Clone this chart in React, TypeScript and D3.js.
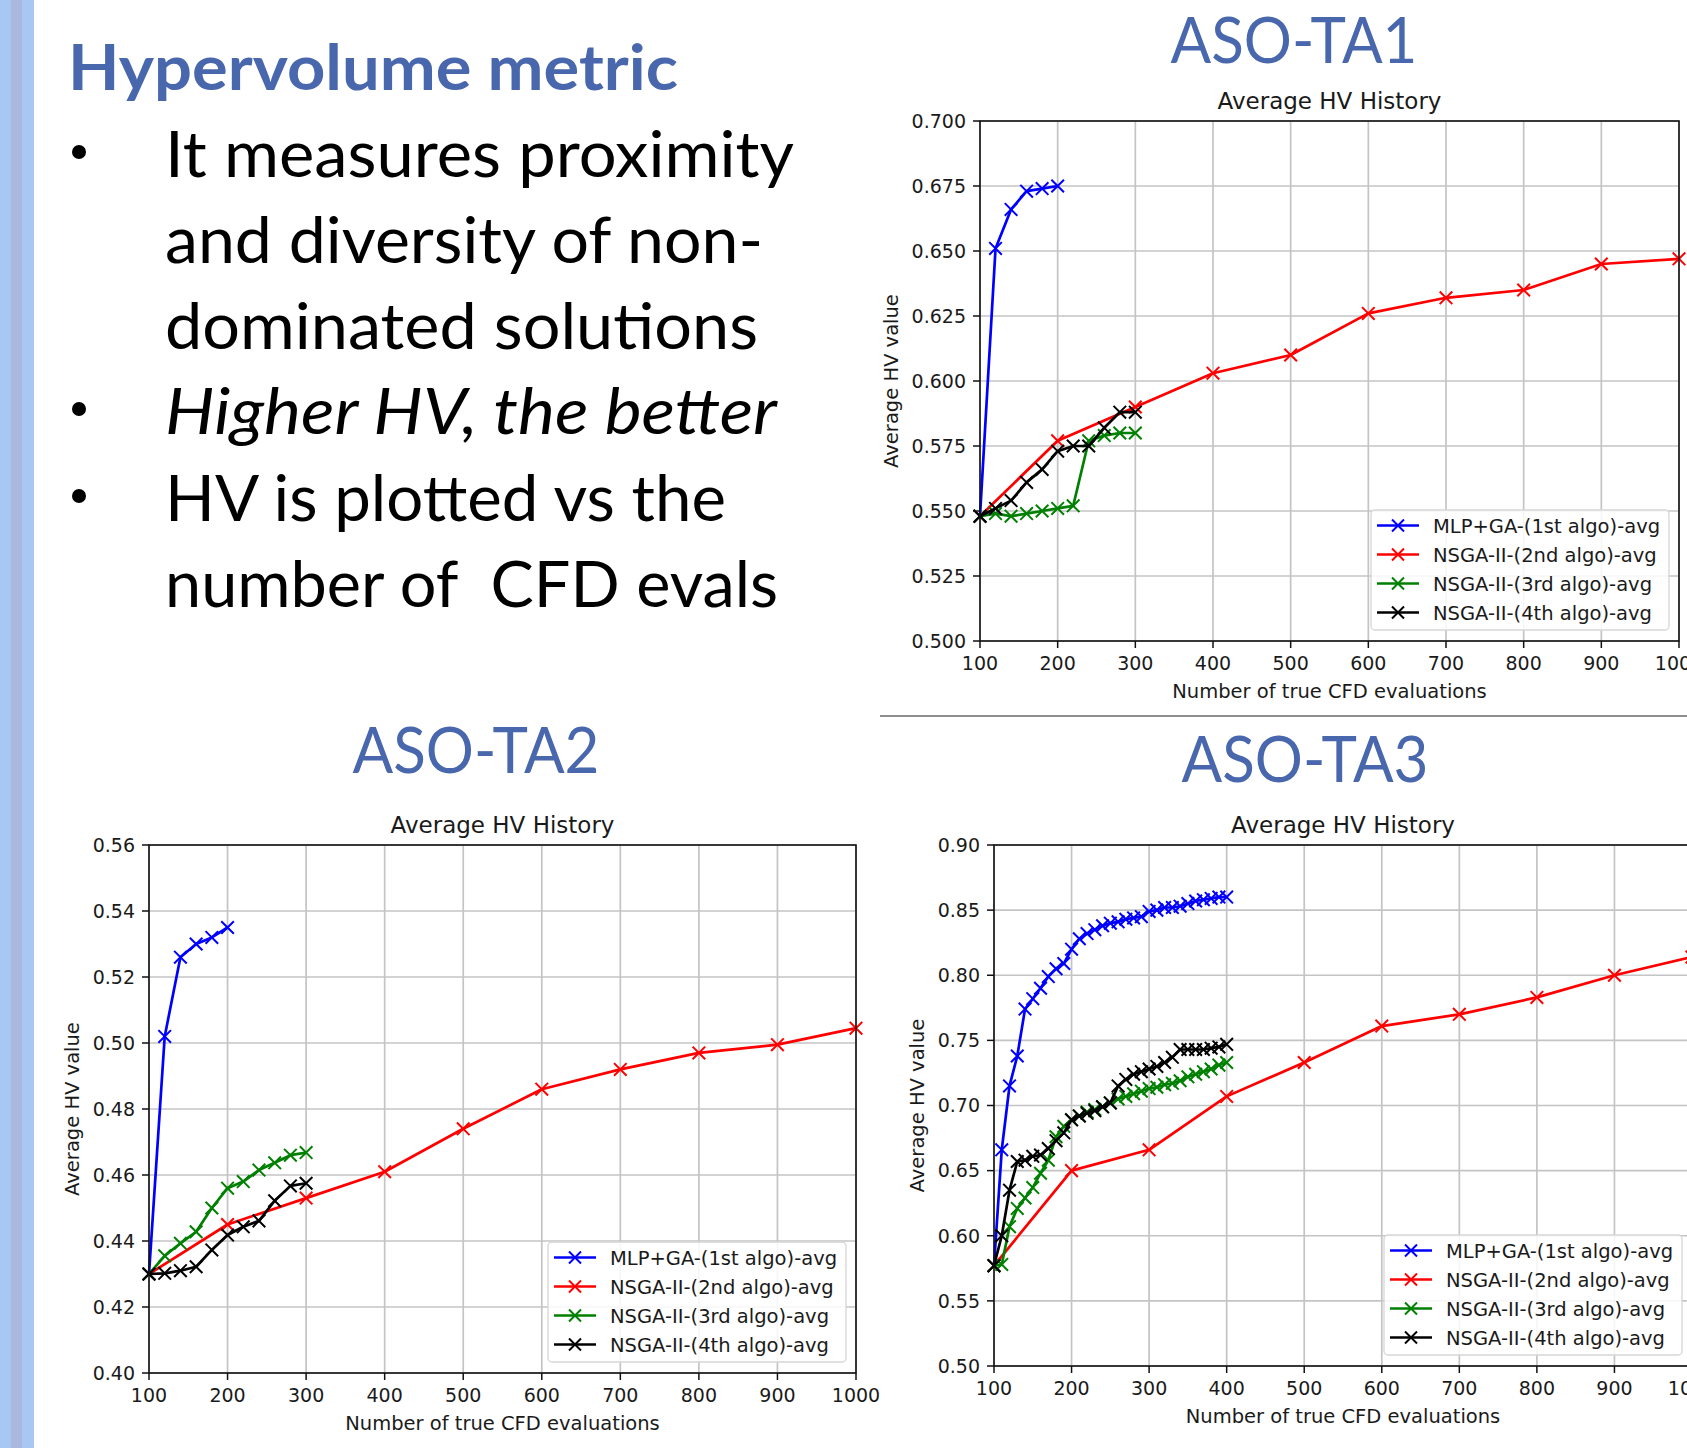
import React from 'react';
import * as d3 from 'd3';

// ---------- text content ----------
const SLIDE_TITLE = 'Hypervolume metric';
const BULLET_LINES = [
  { text: 'It measures proximity', bullet: true, italic: false },
  { text: 'and diversity of non-', bullet: false, italic: false },
  { text: 'dominated solutions', bullet: false, italic: false },
  { text: 'Higher HV, the better', bullet: true, italic: true },
  { text: 'HV is plotted vs the', bullet: true, italic: false },
  { text: 'number of  CFD evals', bullet: false, italic: false },
];
const SERIES_NAMES = [
  'MLP+GA-(1st algo)-avg',
  'NSGA-II-(2nd algo)-avg',
  'NSGA-II-(3rd algo)-avg',
  'NSGA-II-(4th algo)-avg',
];
const SERIES_COLORS = ['#0000ff', '#ff0000', '#008000', '#000000'];
const X_TICKS = [100, 200, 300, 400, 500, 600, 700, 800, 900, 1000];

// ---------- ASO-TA1 ----------
const TA1_Y_TICKS = [0.5, 0.525, 0.55, 0.575, 0.6, 0.625, 0.65, 0.675, 0.7];
const TA1_MLP_X = [100, 120, 140, 160, 180, 200];
const TA1_MLP_Y = [0.548, 0.651, 0.666, 0.673, 0.674, 0.675];
const TA1_NSGA2_X = [100, 200, 300, 400, 500, 600, 700, 800, 900, 1000];
const TA1_NSGA2_Y = [0.548, 0.577, 0.590, 0.603, 0.610, 0.626, 0.632, 0.635, 0.645, 0.647];
const TA1_NSGA3_X = [100, 120, 140, 160, 180, 200, 220, 240, 260, 280, 300];
const TA1_NSGA3_Y = [0.548, 0.549, 0.548, 0.549, 0.550, 0.551, 0.552, 0.577, 0.579, 0.580, 0.580];
const TA1_NSGA4_X = [100, 120, 140, 160, 180, 200, 220, 240, 260, 280, 300];
const TA1_NSGA4_Y = [0.548, 0.551, 0.554, 0.561, 0.566, 0.573, 0.575, 0.575, 0.582, 0.588, 0.588];

// ---------- ASO-TA2 ----------
const TA2_Y_TICKS = [0.4, 0.42, 0.44, 0.46, 0.48, 0.5, 0.52, 0.54, 0.56];
const TA2_MLP_X = [100, 120, 140, 160, 180, 200];
const TA2_MLP_Y = [0.430, 0.502, 0.526, 0.530, 0.532, 0.535];
const TA2_NSGA2_X = [100, 200, 300, 400, 500, 600, 700, 800, 900, 1000];
const TA2_NSGA2_Y = [0.430, 0.445, 0.453, 0.461, 0.474, 0.486, 0.492, 0.497, 0.4995, 0.5045];
const TA2_NSGA3_X = [100, 120, 140, 160, 180, 200, 220, 240, 260, 280, 300];
const TA2_NSGA3_Y = [0.430, 0.4355, 0.4393, 0.4428, 0.450, 0.456, 0.458, 0.4615, 0.4637, 0.466, 0.4668];
const TA2_NSGA4_X = [100, 120, 140, 160, 180, 200, 220, 240, 260, 280, 300];
const TA2_NSGA4_Y = [0.430, 0.4302, 0.431, 0.4322, 0.4373, 0.4418, 0.4443, 0.4461, 0.4522, 0.4567, 0.4575];

// ---------- ASO-TA3 ----------
const TA3_Y_TICKS = [0.5, 0.55, 0.6, 0.65, 0.7, 0.75, 0.8, 0.85, 0.9];
const TA3_DENSE_X = [100, 110, 120, 130, 140, 150, 160, 170, 180, 190, 200, 210, 220, 230, 240, 250,
  260, 270, 280, 290, 300, 310, 320, 330, 340, 350, 360, 370, 380, 390, 400];
const TA3_MLP_Y = [0.577, 0.666, 0.715, 0.738, 0.774, 0.782, 0.790, 0.799, 0.805, 0.809, 0.820, 0.828,
  0.832, 0.835, 0.838, 0.840, 0.841, 0.843, 0.844, 0.845, 0.849, 0.850, 0.852, 0.852, 0.853, 0.855,
  0.857, 0.858, 0.859, 0.860, 0.860];
const TA3_NSGA2_X = [100, 200, 300, 400, 500, 600, 700, 800, 900, 1000];
const TA3_NSGA2_Y = [0.577, 0.650, 0.666, 0.707, 0.733, 0.761, 0.770, 0.783, 0.800, 0.814];
const TA3_NSGA3_Y = [0.577, 0.578, 0.607, 0.621, 0.629, 0.637, 0.648, 0.658, 0.676, 0.684, 0.689, 0.692,
  0.695, 0.697, 0.699, 0.702, 0.705, 0.707, 0.709, 0.711, 0.713, 0.714, 0.716, 0.717, 0.719, 0.722,
  0.724, 0.726, 0.728, 0.731, 0.733];
const TA3_NSGA4_Y = [0.577, 0.600, 0.635, 0.657, 0.658, 0.661, 0.662, 0.667, 0.673, 0.679, 0.689, 0.692,
  0.694, 0.696, 0.699, 0.702, 0.715, 0.720, 0.724, 0.726, 0.728, 0.730, 0.733, 0.737, 0.743, 0.743,
  0.743, 0.743, 0.744, 0.745, 0.747];

const zip = (xs: number[], ys: number[]) => xs.map((v, i) => [v, ys[i]] as [number, number]);

const CHARTS = [
  {
    key: 'ta1',
    heading: 'ASO-TA1',
    yTicks: TA1_Y_TICKS,
    yFormat: '.3f',
    series: [zip(TA1_MLP_X, TA1_MLP_Y), zip(TA1_NSGA2_X, TA1_NSGA2_Y), zip(TA1_NSGA3_X, TA1_NSGA3_Y), zip(TA1_NSGA4_X, TA1_NSGA4_Y)],
    box: { left: 980, right: 1679, top: 121, bottom: 641 },
    headingPos: { x: 1294, y: 63 },
  },
  {
    key: 'ta2',
    heading: 'ASO-TA2',
    yTicks: TA2_Y_TICKS,
    yFormat: '.2f',
    series: [zip(TA2_MLP_X, TA2_MLP_Y), zip(TA2_NSGA2_X, TA2_NSGA2_Y), zip(TA2_NSGA3_X, TA2_NSGA3_Y), zip(TA2_NSGA4_X, TA2_NSGA4_Y)],
    box: { left: 149, right: 856, top: 845, bottom: 1373 },
    headingPos: { x: 476, y: 773 },
  },
  {
    key: 'ta3',
    heading: 'ASO-TA3',
    yTicks: TA3_Y_TICKS,
    yFormat: '.2f',
    series: [zip(TA3_DENSE_X, TA3_MLP_Y), zip(TA3_NSGA2_X, TA3_NSGA2_Y), zip(TA3_DENSE_X, TA3_NSGA3_Y), zip(TA3_DENSE_X, TA3_NSGA4_Y)],
    box: { left: 994, right: 1692, top: 845, bottom: 1366 },
    headingPos: { x: 1305, y: 782 },
  },
];

const MPL_FONT = '"DejaVu Sans", sans-serif';
const SLIDE_FONT = 'Lato, "Open Sans", sans-serif';
const SLIDE_BLUE = '#4967ad';
const TICK_FS = 19;
const LABEL_FS = 19.5;
const TITLE_FS = 23;
const LEGEND_FS = 19.5;

function XMark({ cx, cy, s, color, w }: any) {
  return (
    <path
      d={`M${cx - s},${cy - s}L${cx + s},${cy + s}M${cx - s},${cy + s}L${cx + s},${cy - s}`}
      stroke={color}
      strokeWidth={w}
      fill="none"
    />
  );
}

function Chart({ cfg }: any) {
  const { left, right, top, bottom } = cfg.box;
  const x = d3.scaleLinear().domain([100, 1000]).range([left, right]);
  const yExt = d3.extent(cfg.yTicks) as [number, number];
  const y = d3.scaleLinear().domain(yExt).range([bottom, top]);
  const fmt = d3.format(cfg.yFormat);
  const line = d3.line<[number, number]>().x((d) => x(d[0])).y((d) => y(d[1]));
  const tickLabelW = TICK_FS * (fmt(yExt[1]).replace('.', '').length * 0.636 + 0.318);
  const yLabelX = left - 15 - tickLabelW - 20;
  const midY = (top + bottom) / 2;
  const midX = (left + right) / 2;
  const legW = 298;
  const legH = 120;
  const legRight = right - 10;
  const legBottom = bottom - 11;
  const legLeft = legRight - legW;
  const legTop = legBottom - legH;

  return (
    <g>
      <text x={cfg.headingPos.x} y={cfg.headingPos.y} textAnchor="middle" fontFamily={SLIDE_FONT}
        fontSize={64} fill={SLIDE_BLUE} textLength={247} lengthAdjust="spacingAndGlyphs">{cfg.heading}</text>
      <text x={midX} y={top - 12} textAnchor="middle" fontFamily={MPL_FONT} fontSize={TITLE_FS} fill="#1a1a1a">Average HV History</text>
      {/* grid */}
      {X_TICKS.map((t) => (
        <line key={'gx' + t} x1={x(t)} x2={x(t)} y1={top} y2={bottom} stroke="#c4c4c4" strokeWidth={1.7} />
      ))}
      {cfg.yTicks.map((t: number) => (
        <line key={'gy' + t} x1={left} x2={right} y1={y(t)} y2={y(t)} stroke="#c4c4c4" strokeWidth={1.7} />
      ))}
      {/* series */}
      {cfg.series.map((s: [number, number][], i: number) => (
        <g key={'s' + i}>
          <path d={line(s) || ''} stroke={SERIES_COLORS[i]} strokeWidth={2.7} fill="none" strokeLinejoin="round" />
          {s.map((d, j) => (
            <XMark key={j} cx={x(d[0])} cy={y(d[1])} s={6.3} color={SERIES_COLORS[i]} w={2} />
          ))}
        </g>
      ))}
      {/* spines */}
      <rect x={left} y={top} width={right - left} height={bottom - top} fill="none" stroke="#111" strokeWidth={1.6} />
      {/* ticks */}
      {X_TICKS.map((t) => (
        <g key={'tx' + t}>
          <line x1={x(t)} x2={x(t)} y1={bottom} y2={bottom + 7} stroke="#111" strokeWidth={1.5} />
          <text x={x(t)} y={bottom + 29} textAnchor="middle" fontFamily={MPL_FONT} fontSize={TICK_FS} fill="#1a1a1a">{t}</text>
        </g>
      ))}
      {cfg.yTicks.map((t: number) => (
        <g key={'ty' + t}>
          <line x1={left - 7} x2={left} y1={y(t)} y2={y(t)} stroke="#111" strokeWidth={1.5} />
          <text x={left - 14} y={y(t)} dy="0.36em" textAnchor="end" fontFamily={MPL_FONT} fontSize={TICK_FS} fill="#1a1a1a">{fmt(t)}</text>
        </g>
      ))}
      <text x={midX} y={bottom + 57} textAnchor="middle" fontFamily={MPL_FONT} fontSize={LABEL_FS} fill="#1a1a1a">Number of true CFD evaluations</text>
      <text transform={`translate(${yLabelX},${midY}) rotate(-90)`} dy="0.36em" textAnchor="middle" fontFamily={MPL_FONT} fontSize={LABEL_FS} fill="#1a1a1a">Average HV value</text>
      {/* legend */}
      <rect x={legLeft} y={legTop} width={legW} height={legH} rx={4} fill="#ffffff" fillOpacity={0.85} stroke="#d6d6d6" strokeWidth={1.3} />
      {SERIES_NAMES.map((name, i) => {
        const ry = legTop + 15.5 + i * 29;
        return (
          <g key={'lg' + i}>
            <line x1={legLeft + 6} x2={legLeft + 48} y1={ry} y2={ry} stroke={SERIES_COLORS[i]} strokeWidth={2.7} />
            <XMark cx={legLeft + 27} cy={ry} s={6} color={SERIES_COLORS[i]} w={2} />
            <text x={legLeft + 62} y={ry} dy="0.36em" fontFamily={MPL_FONT} fontSize={LEGEND_FS} fill="#1a1a1a">{name}</text>
          </g>
        );
      })}
    </g>
  );
}

const LINE_WIDTHS = [629, 598, 593, 612, 561, 613];
const LINE_BASELINES = [177, 263, 349, 434, 521, 607];

export default function App() {
  return (
    <svg width={1687} height={1448} viewBox="0 0 1687 1448"
      style={{ position: 'absolute', left: 0, top: 0, display: 'block', background: '#ffffff' }}>
      <rect x={0} y={0} width={1687} height={1448} fill="#ffffff" />
      {/* left decorative bar */}
      <rect x={0} y={0} width={34} height={1448} fill="#a9c7f3" />
      <rect x={11} y={0} width={11} height={1448} fill="#a9b8dc" />
      {/* slide heading */}
      <text x={68} y={90} fontFamily={SLIDE_FONT} fontWeight={700} fontSize={63} fill={SLIDE_BLUE}
        textLength={610} lengthAdjust="spacingAndGlyphs">{SLIDE_TITLE}</text>
      {BULLET_LINES.map((ln, i) => (
        <g key={'bl' + i}>
          {ln.bullet && <circle cx={79} cy={LINE_BASELINES[i] - 25} r={7} fill="#000" />}
          <text x={165} y={LINE_BASELINES[i]} fontFamily={SLIDE_FONT} fontSize={64}
            fontStyle={ln.italic ? 'italic' : 'normal'} fill="#000" style={{ whiteSpace: 'pre' }}
            textLength={LINE_WIDTHS[i]} lengthAdjust="spacingAndGlyphs">{ln.text}</text>
        </g>
      ))}
      {/* separator */}
      <line x1={880} x2={1687} y1={716} y2={716} stroke="#8e8e8e" strokeWidth={2} />
      {CHARTS.map((c) => <Chart key={c.key} cfg={c} />)}
    </svg>
  );
}
